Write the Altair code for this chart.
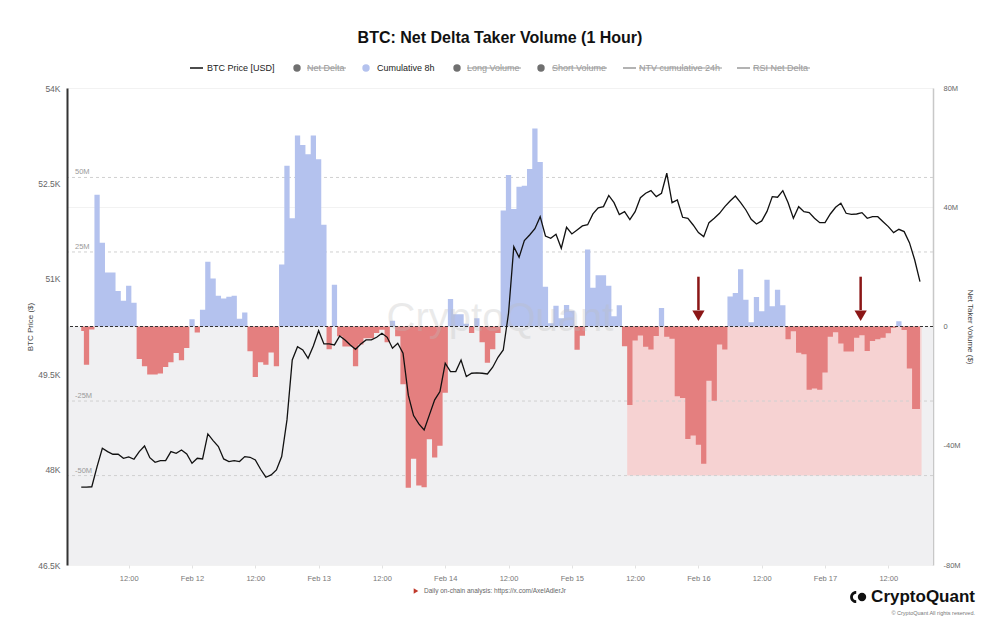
import altair as alt
import pandas as pd

FONT = "Liberation Sans"
FIRST_HOUR = "2024-02-11 03:00"

# Cumulative 8h net delta taker volume (million USD), hourly from FIRST_HOUR
cum8h_musd = [
    -1.5, -12.8, -1.0, 44.2, 28.1, 18.1, 18.1, 11.9, 8.6, 13.7,
    8.0, -10.9, -13.3, -16.1, -16.1, -15.8, -13.6, -12.0, -8.9, -11.3,
    -7.2, 2.4, -2.0, 5.6, 21.7, 16.1, 10.3, 9.4, 10.0, 10.3,
    2.6, 4.7, -8.3, -16.9, -12.0, -12.8, -8.7, -13.3, 20.8, 53.9,
    36.3, 64.1, 60.9, 57.8, 64.1, 56.1, 34.1, -7.6, 14.0, -3.3,
    -6.7, -6.7, -13.3, -6.0, -3.9, -3.9, -2.2, -1.1, -5.3, 1.9,
    -3.3, -19.4, -54.1, -44.4, -53.3, -53.9, -37.8, -43.9, -40.0, -22.2,
    9.2, 4.1, 4.1, 0.9, -2.2, 2.8, -5.3, -12.2, -7.6, -2.2,
    38.9, 50.8, 39.4, 46.9, 47.2, 52.8, 66.4, 55.2, 13.3, 1.1,
    7.0, 2.8, 7.2, 5.3, -7.8, -3.1, 25.8, 13.0, 17.2, 17.2,
    13.7, 3.4, 7.1, -6.6, -26.3, -4.7, -3.0, -6.8, -7.7, -3.2,
    6.2, -3.4, -4.1, -23.4, -24.0, -37.7, -36.6, -39.7, -46.0, -18.2,
    -24.9, -6.0, -7.7, 10.1, 11.2, 19.2, 9.0, 1.4, 9.9, 5.1,
    15.7, 6.8, 12.3, 7.1, -4.3, -1.6, -8.8, -9.3, -21.2, -20.8,
    -21.2, -15.4, -3.4, -1.9, -5.7, -8.4, -8.4, -3.8, -2.9, -8.2,
    -4.9, -4.3, -3.8, -2.3, -0.4, 1.8, -1.2, -14.1, -27.7, -27.7,
]

# BTC price (USD), hourly from FIRST_HOUR
btc_price = [
    47723, 47725, 47730, 48047, 48336, 48283, 48241, 48241, 48178, 48199,
    48163, 48283, 48372, 48188, 48115, 48141, 48141, 48283, 48257, 48309,
    48246, 48100, 48178, 48168, 48561, 48456, 48362, 48168, 48126, 48141,
    48126, 48205, 48194, 48152, 48005, 47880, 47916, 47995, 48205, 48781,
    49724, 49933, 49881, 49750, 49944, 50184, 49976, 49976, 49960, 50101,
    50039, 49960, 49892, 49976, 50039, 50039, 50080, 50143, 50080, 49908,
    49987, 49829, 49170, 48850, 48718, 48624, 48860, 49096, 49227, 49672,
    49541, 49541, 49724, 49462, 49515, 49520, 49515, 49504, 49609, 49766,
    49881, 50458, 51506, 51338, 51600, 51689, 51788, 51977, 51673, 51637,
    51700, 51480, 51810, 51705, 51768, 51831, 51850, 52020, 52115, 52135,
    52310, 52197, 52010, 52055, 51930, 52056, 52275, 52345, 52386, 52292,
    52345, 52660, 52197, 52239, 51967, 51952, 51846, 51726, 51663, 51883,
    51952, 52030, 52134, 52224, 52302, 52197, 52082, 51936, 51862, 51910,
    52060, 52292, 52282, 52386, 52197, 51952, 52134, 52055, 52040, 51952,
    51883, 51883, 52019, 52125, 52187, 52030, 52014, 52019, 52040, 51952,
    51977, 51977, 51898, 51820, 51726, 51778, 51742, 51569, 51296, 50955,
]

x_domain = ["2024-02-11T00:18:00Z", "2024-02-17T20:28:00Z"]
x_tick_times = [
    "2024-02-11T12:00:00Z", "2024-02-12T00:00:00Z", "2024-02-12T12:00:00Z",
    "2024-02-13T00:00:00Z", "2024-02-13T12:00:00Z", "2024-02-14T00:00:00Z",
    "2024-02-14T12:00:00Z", "2024-02-15T00:00:00Z", "2024-02-15T12:00:00Z",
    "2024-02-16T00:00:00Z", "2024-02-16T12:00:00Z", "2024-02-17T00:00:00Z",
    "2024-02-17T12:00:00Z",
]
price_ticks = [46500, 48000, 49500, 51000, 52500, 54000]
vol_ticks = [-80, -40, 0, 40, 80]
guide_levels = [50, 25, -25, -50]
guide_labels = ["50M", "25M", "-25M", "-50M"]

highlight_start = ["2024-02-15T10:30:00Z"]
highlight_end = ["2024-02-17T18:18:00Z"]
highlight_floor = -50

arrow_times = ["2024-02-16T00:00:00Z", "2024-02-17T06:45:00Z"]
arrow_tops = [16.7, 16.7]
arrow_shaft_ends = [5.5, 5.5]
arrow_heads = [3.6, 3.6]

legend_names = ["BTC Price [USD]", "Net Delta", "Cumulative 8h", "Long Volume",
                "Short Volume", "NTV cumulative 24h", "RSI Net Delta"]
title_text = ["BTC: Net Delta Taker Volume (1 Hour)"]
footer_text = ["Daily on-chain analysis: https://x.com/AxelAdlerJr"]
brand_text = ["CryptoQuant"]
copyright_text = ["\u00a9 CryptoQuant All rights reserved."]


def ms(s):
    return int(pd.Timestamp(s).timestamp() * 1000)


times = pd.date_range(FIRST_HOUR, periods=len(btc_price), freq="h").strftime("%Y-%m-%dT%H:%M:%SZ")
df = pd.DataFrame({"time": list(times), "price": btc_price, "vol": cum8h_musd})
df["pos"] = df["vol"].clip(lower=0)
df["neg"] = df["vol"].clip(upper=0)

W, H = 866, 477

x_scale = alt.Scale(type="utc", domain=[ms(v) for v in x_domain])
vol_scale = alt.Scale(domain=[-80, 80], nice=False, zero=False)
price_scale = alt.Scale(domain=[46500, 54000], nice=False, zero=False)

X_AX = alt.Axis(
    values=[ms(v) for v in x_tick_times],
    labelExpr="utchours(datum.value) == 0 ? utcFormat(datum.value, '%b %d') : utcFormat(datum.value, '%H:%M')",
    grid=False, domain=False, ticks=True, tickSize=3, tickColor="#e2e2e2",
    labelColor="#777", labelFontSize=7.5, labelPadding=6, title=None, labelFont=FONT,
)
VOL_AX = alt.Axis(
    orient="right", values=vol_ticks,
    labelExpr="datum.value == 0 ? '0' : datum.value + 'M'",
    title="Net Taker Volume ($)", titleFontSize=8, titleFontWeight="normal",
    titleColor="#444", titlePadding=5, labelFontSize=7.5, labelColor="#666",
    labelPadding=10, ticks=False, domainColor="#c8c8c8", domainWidth=1.5,
    grid=True, gridColor="#f2f2f2", labelFont=FONT, titleFont=FONT,
)
PRICE_AX = alt.Axis(
    orient="left", values=price_ticks,
    labelExpr="(datum.value / 1000) + 'K'",
    title="BTC Price ($)", titleFontSize=8, titleFontWeight="normal",
    titleColor="#444", titlePadding=3, labelFontSize=8.5, labelColor="#666",
    labelPadding=7, ticks=False, domainColor="#333", domainWidth=2,
    grid=False, zindex=1, labelFont=FONT, titleFont=FONT,
)

one = pd.DataFrame({"k": [0]})

bg = alt.Chart(one).mark_rect(color="#f0f0f2").encode(
    x=alt.value(0), x2=alt.value(W),
    y=alt.YDatum(0, scale=vol_scale, axis=VOL_AX), y2=alt.Y2Datum(-80),
)
pink = alt.Chart(pd.DataFrame({"start": highlight_start, "end": highlight_end})).mark_rect(
    color="#f6d2d2").encode(
    x=alt.X("start:T", scale=x_scale, axis=X_AX), x2="end:T",
    y=alt.YDatum(0, scale=vol_scale, axis=VOL_AX), y2=alt.Y2Datum(highlight_floor),
)
gdf = pd.DataFrame({"lvl": guide_levels, "lab": guide_labels})
guides = alt.Chart(gdf).mark_rule(color="#d0d0d0", strokeDash=[3, 3], strokeWidth=1).encode(
    y=alt.Y("lvl:Q", scale=vol_scale, axis=VOL_AX))
guide_text = alt.Chart(gdf).mark_text(align="left", baseline="bottom", dy=-1, fontSize=7.5,
                                      color="#9a9a9a", font=FONT).encode(
    x=alt.value(8), y=alt.Y("lvl:Q", scale=vol_scale, axis=VOL_AX), text="lab:N")

pos = alt.Chart(df).mark_area(interpolate="step", color="#b4c2ee").encode(
    x=alt.X("time:T", scale=x_scale, axis=X_AX),
    y=alt.Y("pos:Q", scale=vol_scale, axis=VOL_AX), y2=alt.Y2Datum(0))
neg = alt.Chart(df).mark_area(interpolate="step", color="#e47f7f").encode(
    x=alt.X("time:T", scale=x_scale, axis=X_AX),
    y=alt.Y("neg:Q", scale=vol_scale, axis=VOL_AX), y2=alt.Y2Datum(0))

watermark = alt.Chart(pd.DataFrame({"t": brand_text})).mark_text(
    fontSize=40, color="#bdbdbd", opacity=0.3, font=FONT, fontWeight=500).encode(
    x=alt.value(433), y=alt.value(231), text="t:N")

zero = alt.Chart(one).mark_rule(color="#333", strokeDash=[3, 2], strokeWidth=1.2).encode(
    y=alt.YDatum(0, scale=vol_scale, axis=VOL_AX))

adf = pd.DataFrame({"t": arrow_times, "top": arrow_tops, "end": arrow_shaft_ends, "head": arrow_heads})
shaft = alt.Chart(adf).mark_rule(color="#8b1616", strokeWidth=2.5).encode(
    x=alt.X("t:T", scale=x_scale, axis=X_AX),
    y=alt.Y("top:Q", scale=vol_scale, axis=VOL_AX), y2="end:Q")
head = alt.Chart(adf).mark_point(shape="triangle-down", filled=True, size=150,
                                 color="#8b1616", opacity=1).encode(
    x=alt.X("t:T", scale=x_scale, axis=X_AX),
    y=alt.Y("head:Q", scale=vol_scale, axis=VOL_AX))

vol_layer = alt.layer(bg, pink, guides, guide_text, pos, neg, watermark, zero, shaft, head)

price_line = alt.Chart(df).mark_line(color="#111", strokeWidth=1.3).encode(
    x=alt.X("time:T", scale=x_scale, axis=X_AX),
    y=alt.Y("price:Q", scale=price_scale, axis=PRICE_AX))

# ---- text overlays (title, legend, footer) ----
overlays = []


def text_layer(txt, x, y, **kw):
    return alt.Chart(pd.DataFrame({"t": [txt]})).mark_text(font=FONT, **kw).encode(
        x=alt.value(x), y=alt.value(y), text="t:N")


def hrule(x1, x2, y, color, width):
    return alt.Chart(one).mark_rule(color=color, strokeWidth=width).encode(
        x=alt.value(x1), x2=alt.value(x2), y=alt.value(y))


def dot(x, y, color, size=55, shape="circle"):
    return alt.Chart(one).mark_point(shape=shape, filled=True, size=size, color=color, opacity=1).encode(
        x=alt.value(x), y=alt.value(y))


overlays.append(text_layer(title_text[0], 433, -50, fontSize=16, fontWeight="bold",
                           color="#111", align="center", baseline="middle"))

LY = -20
# legend: (kind, symbol x, text x, text end x, active)
legend_spec = [
    ("line", 123, 140, None, True),
    ("dot", 230, 240, 279, False),
    ("dot", 299, 310, None, True),
    ("dot", 390, 400, 454, False),
    ("dot", 474, 485, 540, False),
    ("line", 556, 572, 655, False),
    ("line", 670, 686, 743, False),
]
sym_colors = ["#111", "#707070", "#b4c2ee", "#707070", "#707070", "#9a9a9a", "#9a9a9a"]
for name, (kind, sx, tx, tend, active), sc in zip(legend_names, legend_spec, sym_colors):
    if kind == "line":
        overlays.append(hrule(sx, sx + 13, LY, sc, 1.5))
    else:
        overlays.append(dot(sx, LY, sc))
    overlays.append(text_layer(name, tx, LY, fontSize=9, align="left", baseline="middle",
                               color="#222" if active else "#9a9a9a"))
    if not active:
        overlays.append(hrule(tx, tend, LY, "#9a9a9a", 1))

overlays.append(dot(349, 503, "#c0392b", size=28, shape="triangle-right"))
overlays.append(text_layer(footer_text[0], 357, 503, fontSize=6.5, align="left",
                           baseline="middle", color="#666"))
overlays.append(dot(788, 509, "#111", size=150,
                    shape="M 0.2 -1 A 1 1 0 0 0 0.2 1 L 0.2 0.55 A 0.55 0.55 0 0 1 0.2 -0.55 Z"))
overlays.append(dot(795, 509, "#111", size=70))
overlays.append(text_layer(brand_text[0], 908, 509, fontSize=17, fontWeight=600,
                           align="right", baseline="middle", color="#111"))
overlays.append(text_layer(copyright_text[0], 908, 525, fontSize=5.5, align="right",
                           baseline="middle", color="#777"))

chart = alt.layer(vol_layer, price_line, *overlays).resolve_scale(y="independent").properties(
    width=W, height=H,
    padding={"left": 59, "top": 80, "right": 55, "bottom": 54},
    autosize=alt.AutoSizeParams(type="none"),
).configure(font=FONT).configure_view(strokeWidth=0)

chart.save("out.html", embed_options={"renderer": "svg", "actions": False})
